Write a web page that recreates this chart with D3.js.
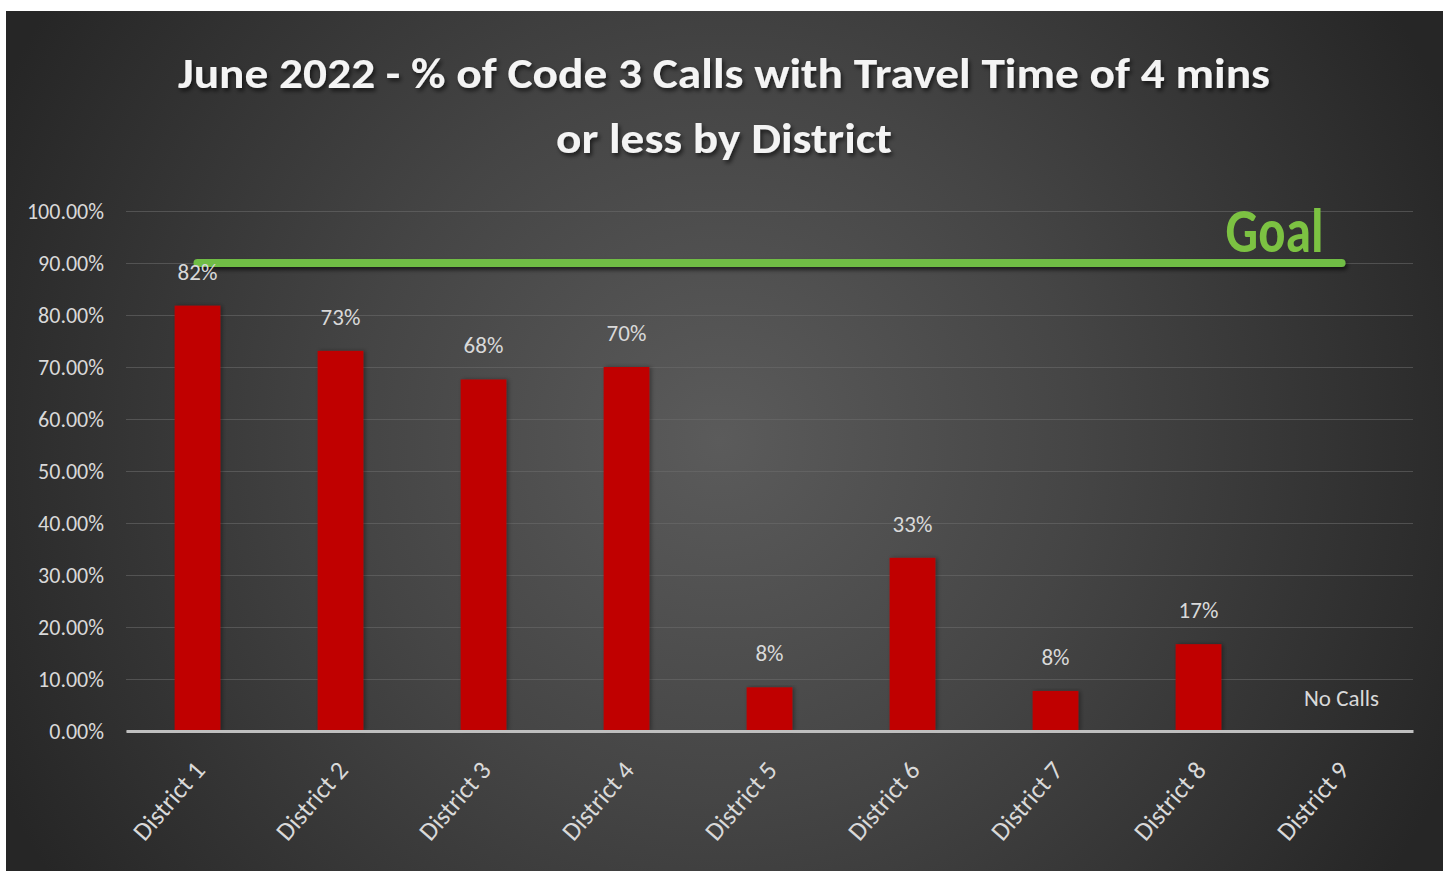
<!DOCTYPE html>
<html>
<head>
<meta charset="utf-8">
<script src="https://cdn.jsdelivr.net/npm/d3@7/dist/d3.min.js"></script>
<style>
  html, body { margin: 0; padding: 0; background: #ffffff; }
  svg { display: block; }
  .lbl { font-family: Carlito, "Liberation Sans Narrow", "Open Sans", "DejaVu Sans Condensed", sans-serif; }
</style>
</head>
<body>
<svg id="chart" width="1447" height="871"></svg>
<script>
// District travel-time compliance, June 2022
const titleLines = [
  "June 2022 - % of Code 3 Calls with Travel Time of 4 mins",
  "or less by District"
];
const categories = ["District 1", "District 2", "District 3", "District 4", "District 5",
                    "District 6", "District 7", "District 8", "District 9"];
const values = [0.818, 0.731, 0.676, 0.70, 0.084, 0.333, 0.077, 0.167, null];
const yTicks = [0, 0.1, 0.2, 0.3, 0.4, 0.5, 0.6, 0.7, 0.8, 0.9, 1.0];
const goalValue = 0.9;
const goalLabel = "Goal";
const emptyLabel = "No Calls";

const svg = d3.select("#chart");
const defs = svg.append("defs");

// dark radial backdrop
const grad = defs.append("radialGradient")
  .attr("id", "bg").attr("gradientUnits", "userSpaceOnUse")
  .attr("cx", 720).attr("cy", 440).attr("r", 800);
grad.append("stop").attr("offset", 0).attr("stop-color", "#5b5b5b");
grad.append("stop").attr("offset", 0.45).attr("stop-color", "#454545");
grad.append("stop").attr("offset", 1).attr("stop-color", "#262626");

const shadow = defs.append("filter").attr("id", "shadow")
  .attr("filterUnits", "userSpaceOnUse")
  .attr("x", 0).attr("y", 0).attr("width", 1447).attr("height", 871);
shadow.append("feDropShadow").attr("dx", 2).attr("dy", 3).attr("stdDeviation", 2)
  .attr("flood-color", "#000").attr("flood-opacity", 0.6);

const barShadow = defs.append("filter").attr("id", "barShadow")
  .attr("x", "-30%").attr("y", "-5%").attr("width", "160%").attr("height", "110%");
barShadow.append("feDropShadow").attr("dx", 2).attr("dy", 0).attr("stdDeviation", 2)
  .attr("flood-color", "#000").attr("flood-opacity", 0.35);

svg.append("rect").attr("x", 6).attr("y", 11).attr("width", 1437).attr("height", 860)
  .attr("fill", "url(#bg)");

const margin = { left: 126, right: 1413, top: 211, bottom: 731 };

const x = d3.scaleBand().domain(categories)
  .range([margin.left, margin.right])
  .paddingInner(0.68).paddingOuter(0.34);
const y = d3.scaleLinear().domain([0, 1]).range([margin.bottom, margin.top]);

// title
const title = svg.append("g").attr("class", "lbl").attr("filter", "url(#shadow)");
title.append("text").attr("x", 724).attr("y", 88).attr("text-anchor", "middle")
  .attr("font-size", 42).attr("font-weight", "bold").attr("fill", "#f4f4f4")
  .attr("textLength", 1092).attr("lengthAdjust", "spacingAndGlyphs")
  .text(titleLines[0]);
title.append("text").attr("x", 724).attr("y", 153).attr("text-anchor", "middle")
  .attr("font-size", 42).attr("font-weight", "bold").attr("fill", "#f4f4f4")
  .attr("textLength", 336).attr("lengthAdjust", "spacingAndGlyphs")
  .text(titleLines[1]);

// horizontal gridlines
svg.append("g")
  .attr("transform", `translate(${margin.left},0)`)
  .call(d3.axisLeft(y).tickValues(yTicks).tickSize(-(margin.right - margin.left)).tickFormat(""))
  .call(g => g.select(".domain").remove())
  .call(g => g.selectAll("line").attr("stroke", "#6e6e6e").attr("stroke-opacity", 0.55).attr("stroke-width", 1.2));

// y axis labels
svg.append("g")
  .attr("class", "lbl")
  .attr("transform", `translate(${margin.left},0)`)
  .call(d3.axisLeft(y).tickValues(yTicks).tickSize(0).tickPadding(22).tickFormat(d3.format(".2%")))
  .call(g => g.select(".domain").remove())
  .call(g => g.selectAll("text").attr("font-size", 22).attr("fill", "#d9d9d9")
    .attr("font-family", null));

// bars
const withData = categories.map((c, i) => ({ c, v: values[i] }));
svg.append("g").selectAll("rect")
  .data(withData.filter(d => d.v != null))
  .join("rect")
  .attr("x", d => x(d.c))
  .attr("width", x.bandwidth())
  .attr("y", d => y(d.v))
  .attr("height", d => y(0) - y(d.v))
  .attr("fill", "#c00000")
  .attr("filter", "url(#barShadow)");

// baseline + category labels
svg.append("g")
  .attr("class", "lbl")
  .attr("transform", `translate(0,${y(0)})`)
  .call(d3.axisBottom(x).tickSize(0).tickFormat(""))
  .call(g => g.select(".domain").attr("stroke", "#bfbfbf").attr("stroke-width", 3));

svg.append("g").attr("class", "lbl").selectAll("text")
  .data(categories)
  .join("text")
  .attr("transform", d => `translate(${x(d) + x.bandwidth() / 2 + 9},${y(0) + 40}) rotate(-49)`)
  .attr("text-anchor", "end")
  .attr("font-size", 26).attr("fill", "#d9d9d9")
  .text(d => d);

// goal line
const gx0 = x(categories[0]) + x.bandwidth() / 2;
const gx1 = x(categories[categories.length - 1]) + x.bandwidth() / 2;
svg.append("line")
  .attr("x1", gx0).attr("x2", gx1)
  .attr("y1", y(goalValue)).attr("y2", y(goalValue))
  .attr("stroke", "#6fbd45").attr("stroke-width", 8).attr("stroke-linecap", "round")
  .attr("filter", "url(#shadow)");
svg.append("text").attr("class", "lbl")
  .attr("x", gx1 - 18).attr("y", y(goalValue) - 11)
  .attr("text-anchor", "end")
  .attr("font-size", 62).attr("font-weight", "bold").attr("fill", "#7cc242")
  .attr("textLength", 98).attr("lengthAdjust", "spacingAndGlyphs")
  .text(goalLabel);

// value labels
svg.append("g").attr("class", "lbl").selectAll("text")
  .data(withData)
  .join("text")
  .attr("x", d => x(d.c) + x.bandwidth() / 2)
  .attr("y", d => d.v == null ? y(0) - 25 : y(d.v) - 26)
  .attr("text-anchor", "middle")
  .attr("font-size", 23).attr("fill", "#d9d9d9")
  .text(d => d.v == null ? emptyLabel : d3.format(".0%")(d.v));
</script>
</body>
</html>
